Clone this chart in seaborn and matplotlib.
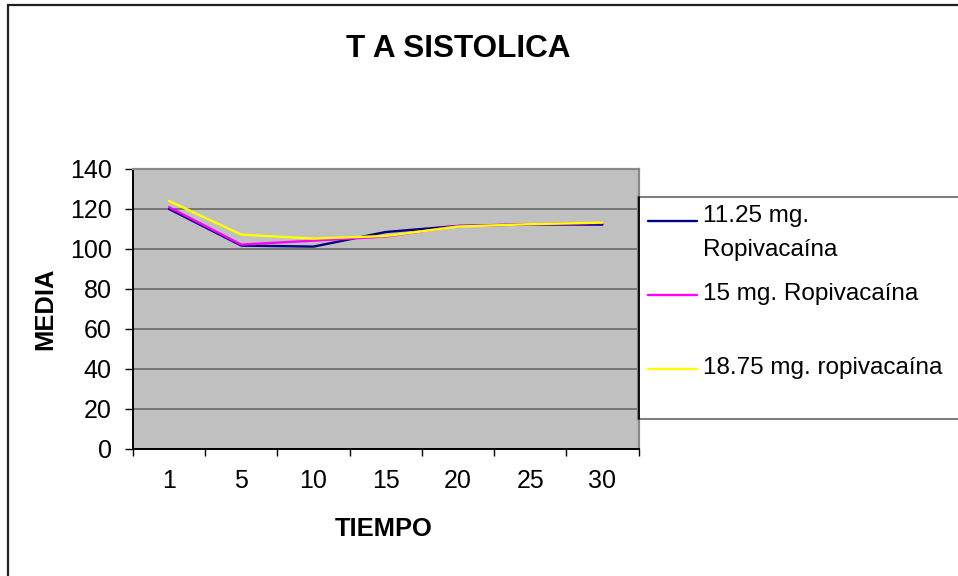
import matplotlib
matplotlib.use("Agg")
import matplotlib.pyplot as plt
from matplotlib.lines import Line2D
from matplotlib.patches import Rectangle
import seaborn as sns
import pandas as pd

# ---- data ----
tiempo = ["1", "5", "10", "15", "20", "25", "30"]
series_labels = ["11.25 mg.\nRopivacaína", "15 mg. Ropivacaína", "18.75 mg. ropivacaína"]
media_1125 = [120.0, 101.7, 101.2, 108.5, 111.5, 112.3, 112.2]
media_15 = [120.9, 102.2, 104.2, 106.2, 111.5, 112.4, 113.0]
media_1875 = [124.0, 107.2, 105.2, 106.5, 111.2, 112.4, 113.2]
colors = ["#000080", "#FF00FF", "#FFFF00"]

rows = []
for lab, vals in zip(series_labels, [media_1125, media_15, media_1875]):
    for t, v in zip(tiempo, vals):
        rows.append({"TIEMPO": t, "MEDIA": v, "serie": lab})
df = pd.DataFrame(rows)

sns.set_theme(style="white")
plt.rcParams["font.family"] = ["Liberation Sans", "DejaVu Sans"]
plt.rcParams.update({"text.color": "black", "axes.labelcolor": "black",
                     "xtick.color": "black", "ytick.color": "black"})

W, H = 958, 576
fig = plt.figure(figsize=(W / 100, H / 100), dpi=100)
fig.patch.set_facecolor("white")


def fx(px):
    return px / W


def fy(py):
    return 1 - py / H


# outer chart border (extends past right/bottom edges)
fig.add_artist(Rectangle((fx(8), fy(600)), fx(1000 - 8), fy(4.7) - fy(600),
                         transform=fig.transFigure, fill=False,
                         edgecolor="#202020", linewidth=1.6))

x0, x1, y0, y1 = 133, 638.5, 169, 449
ax = fig.add_axes([fx(x0), fy(y1), fx(x1 - x0), fy(y0) - fy(y1)])
ax.set_facecolor("#C0C0C0")

sns.lineplot(data=df, x="TIEMPO", y="MEDIA", hue="serie", palette=colors,
             sort=False, linewidth=1.7, ax=ax, legend=False)

ax.set_xlim(-0.5, len(tiempo) - 0.5)
ax.set_ylim(0, 140)
ax.set_yticks(range(0, 141, 20))
ax.yaxis.grid(True, color="#707070", linewidth=1.3)
ax.set_axisbelow(True)

ax.set_xticks(range(len(tiempo)))
ax.set_xticklabels(tiempo)
ax.set_xticks([i - 0.5 for i in range(len(tiempo) + 1)], minor=True)
ax.tick_params(axis="x", which="major", length=0, pad=14.3, labelsize=18, labelcolor="black")
ax.tick_params(axis="x", which="minor", length=5.2, width=1.0, direction="out",
               color="black", bottom=True)
ax.tick_params(axis="y", which="major", length=5.8, width=1.0, direction="out",
               pad=9.6, labelsize=18, color="black", labelcolor="black", left=True)

for side in ["top", "right"]:
    ax.spines[side].set_color("#8a8a8a")
    ax.spines[side].set_linewidth(1.6)
for side in ["left", "bottom"]:
    ax.spines[side].set_color("black")
    ax.spines[side].set_linewidth(1.4)

ax.set_xlabel("TIEMPO", fontsize=18.4, fontweight="bold", color="black")
ax.set_ylabel("MEDIA", fontsize=18.4, fontweight="bold", color="black")
ax.xaxis.set_label_coords(0.496, -0.243)
ax.yaxis.set_label_coords(-0.150, 0.5)

fig.text(fx(458), fy(57.3), "T A SISTOLICA", ha="center", va="baseline",
         fontsize=22.7, fontweight="bold", color="black")

# legend box with its entries
fig.add_artist(Rectangle((fx(638), fy(418.7)), fx(1000 - 638), fy(196.7) - fy(418.7),
                         transform=fig.transFigure, facecolor="white",
                         edgecolor="#808080", linewidth=1.5, zorder=0.5))
fig.add_artist(Line2D([fx(638.5), fx(638.5)], [fy(196.7), fy(418.7)],
                      transform=fig.transFigure, color="black", linewidth=1.3))
legend_y = [220.7, 295, 369]
line_step = 30.7
for lab, col, ly in zip(series_labels, colors, legend_y):
    fig.add_artist(Line2D([fx(648), fx(697)], [fy(ly), fy(ly)],
                          transform=fig.transFigure, color=col, linewidth=1.7))
    n_lines = lab.count("\n") + 1
    # baseline alignment refers to the last line of a multi-line label
    fig.text(fx(703), fy(ly + 5 + (n_lines - 1) * line_step), lab,
             ha="left", va="baseline", fontsize=17.5, linespacing=1.73,
             color="black")

fig.savefig("out.png", dpi=100, facecolor="white")
